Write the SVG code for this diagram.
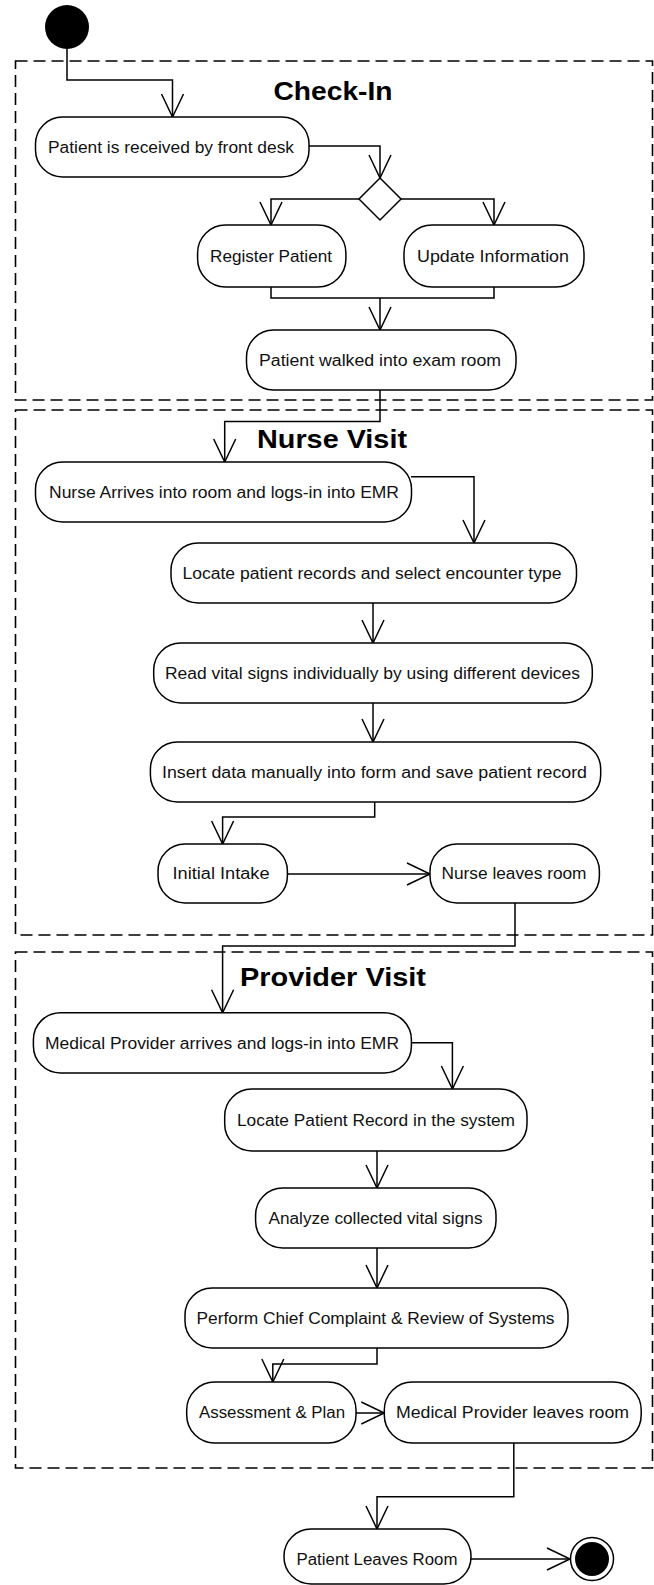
<svg xmlns="http://www.w3.org/2000/svg" width="654" height="1585" viewBox="0 0 654 1585">
<defs>
<marker id="arr" markerUnits="userSpaceOnUse" markerWidth="28" markerHeight="28" viewBox="-26 -14 28 28" refX="0" refY="0" orient="auto">
<path d="M-23,-11 L0,0 L-23,11" fill="none" stroke="#000" stroke-width="1.5"/>
</marker>
</defs>
<style>
.lane{fill:none;stroke:#000;stroke-width:1.6;stroke-dasharray:12 6}
.node{fill:#fff;stroke:#000;stroke-width:1.5}
.lbl{font-family:"Liberation Sans",Arial,sans-serif;font-size:16px;fill:#111;text-anchor:middle}
.ttl{font-family:"Liberation Sans",Arial,sans-serif;font-size:26px;font-weight:bold;fill:#000;text-anchor:middle}
.edge{fill:none;stroke:#000;stroke-width:1.5}
.ea{marker-end:url(#arr)}
</style>
<rect width="654" height="1585" fill="#fff"/>

<g id="lane-checkin">
<rect class="lane" x="15.5" y="61" width="637" height="339"/>
<text class="ttl" x="333" y="100" textLength="119" lengthAdjust="spacingAndGlyphs">Check-In</text>
</g>
<g id="lane-nurse">
<rect class="lane" x="15.5" y="410" width="637" height="525"/>
<text class="ttl" x="332" y="448" textLength="150" lengthAdjust="spacingAndGlyphs">Nurse Visit</text>
</g>
<g id="lane-provider">
<rect class="lane" x="15.5" y="952" width="637" height="516"/>
<text class="ttl" x="333" y="986" textLength="186" lengthAdjust="spacingAndGlyphs">Provider Visit</text>
</g>

<g id="connectors">
<path class="edge ea" d="M67,49 V80 H172.5 V117"/>
<path class="edge ea" d="M309,146 H380 V178"/>
<path class="edge ea" d="M359,199 H271 V225"/>
<path class="edge ea" d="M401,199 H494 V225"/>
<path class="edge" d="M271,287 V298 H494 V287"/>
<path class="edge ea" d="M380,298 V330"/>
<path class="edge ea" d="M380,390 V421.5 H224.7 V462"/>
<path class="edge ea" d="M411,476.7 H474 V543"/>
<path class="edge ea" d="M373,603 V643"/>
<path class="edge ea" d="M373,703 V742"/>
<path class="edge ea" d="M374.7,802 V817 H222.6 V844"/>
<path class="edge ea" d="M287.4,874 H430"/>
<path class="edge ea" d="M515,903 V946 H222.6 V1012.7"/>
<path class="edge ea" d="M411.4,1042.7 H452.4 V1089"/>
<path class="edge ea" d="M377,1151 V1188"/>
<path class="edge ea" d="M377,1248 V1288"/>
<path class="edge ea" d="M377,1348 V1364 H272.8 V1382"/>
<path class="edge ea" d="M356,1413 H384.3"/>
<path class="edge ea" d="M513.8,1443 V1496.7 H377 V1529"/>
<path class="edge ea" d="M471,1559 H570"/>
</g>

<g id="start"><circle cx="67" cy="27" r="22" fill="#000"/></g>

<g id="n-received">
<rect class="node" x="35.5" y="117" width="273.5" height="60" rx="27" ry="27"/>
<text class="lbl" x="171" y="152.5" textLength="246" lengthAdjust="spacingAndGlyphs">Patient is received by front desk</text>
</g>
<g id="decision"><polygon class="node" points="380,178 401,199 380,220 359,199"/></g>
<g id="n-register">
<rect class="node" x="197.6" y="225" width="148.3" height="62" rx="28" ry="28"/>
<text class="lbl" x="271" y="261.5" textLength="122" lengthAdjust="spacingAndGlyphs">Register Patient</text>
</g>
<g id="n-update">
<rect class="node" x="404" y="225" width="180" height="62" rx="28" ry="28"/>
<text class="lbl" x="493" y="261.5" textLength="152" lengthAdjust="spacingAndGlyphs">Update Information</text>
</g>
<g id="n-walked">
<rect class="node" x="246.5" y="330" width="269.5" height="60" rx="27" ry="27"/>
<text class="lbl" x="380" y="365.5" textLength="242" lengthAdjust="spacingAndGlyphs">Patient walked into exam room</text>
</g>
<g id="n-nurse-arrives">
<rect class="node" x="35.5" y="462" width="376" height="60" rx="27" ry="27"/>
<text class="lbl" x="224" y="497.5" textLength="350" lengthAdjust="spacingAndGlyphs">Nurse Arrives into room and logs-in into EMR</text>
</g>
<g id="n-locate-records">
<rect class="node" x="171" y="543" width="405.5" height="60" rx="27" ry="27"/>
<text class="lbl" x="372" y="578.5" textLength="379" lengthAdjust="spacingAndGlyphs">Locate patient records and select encounter type</text>
</g>
<g id="n-read-vitals">
<rect class="node" x="153.7" y="643" width="438.6" height="60" rx="27" ry="27"/>
<text class="lbl" x="372.5" y="678.5" textLength="415" lengthAdjust="spacingAndGlyphs">Read vital signs individually by using different devices</text>
</g>
<g id="n-insert">
<rect class="node" x="150.4" y="742" width="450.3" height="60" rx="27" ry="27"/>
<text class="lbl" x="374.5" y="777.5" textLength="425" lengthAdjust="spacingAndGlyphs">Insert data manually into form and save patient record</text>
</g>
<g id="n-intake">
<rect class="node" x="158" y="844" width="129.4" height="59" rx="27" ry="27"/>
<text class="lbl" x="221" y="879" textLength="97" lengthAdjust="spacingAndGlyphs">Initial Intake</text>
</g>
<g id="n-nurse-leaves">
<rect class="node" x="430" y="844" width="169.4" height="59" rx="27" ry="27"/>
<text class="lbl" x="514" y="879" textLength="145" lengthAdjust="spacingAndGlyphs">Nurse leaves room</text>
</g>
<g id="n-provider-arrives">
<rect class="node" x="33.4" y="1012.7" width="378" height="60.3" rx="27" ry="27"/>
<text class="lbl" x="222" y="1048.5" textLength="354" lengthAdjust="spacingAndGlyphs">Medical Provider arrives and logs-in into EMR</text>
</g>
<g id="n-locate-record">
<rect class="node" x="224.7" y="1089" width="302.3" height="62" rx="27" ry="27"/>
<text class="lbl" x="376" y="1125.5" textLength="278" lengthAdjust="spacingAndGlyphs">Locate Patient Record in the system</text>
</g>
<g id="n-analyze">
<rect class="node" x="255.6" y="1188" width="240.4" height="60" rx="27" ry="27"/>
<text class="lbl" x="375.5" y="1223.5" textLength="214" lengthAdjust="spacingAndGlyphs">Analyze collected vital signs</text>
</g>
<g id="n-perform">
<rect class="node" x="185" y="1288" width="383" height="60" rx="27" ry="27"/>
<text class="lbl" x="375.5" y="1323.5" textLength="358" lengthAdjust="spacingAndGlyphs">Perform Chief Complaint &amp; Review of Systems</text>
</g>
<g id="n-assessment">
<rect class="node" x="186.7" y="1382" width="169.3" height="61" rx="28" ry="28"/>
<text class="lbl" x="272" y="1417.5" textLength="146" lengthAdjust="spacingAndGlyphs">Assessment &amp; Plan</text>
</g>
<g id="n-provider-leaves">
<rect class="node" x="384.3" y="1382" width="256.9" height="61" rx="28" ry="28"/>
<text class="lbl" x="512.5" y="1417.5" textLength="233" lengthAdjust="spacingAndGlyphs">Medical Provider leaves room</text>
</g>
<g id="n-patient-leaves">
<rect class="node" x="284" y="1529" width="187" height="55" rx="27" ry="27"/>
<text class="lbl" x="377" y="1564.5" textLength="161" lengthAdjust="spacingAndGlyphs">Patient Leaves Room</text>
</g>
<g id="end">
<circle cx="592" cy="1559" r="21.5" fill="#fff" stroke="#000" stroke-width="1.5"/>
<circle cx="592" cy="1559" r="17" fill="#000"/>
</g>
</svg>
